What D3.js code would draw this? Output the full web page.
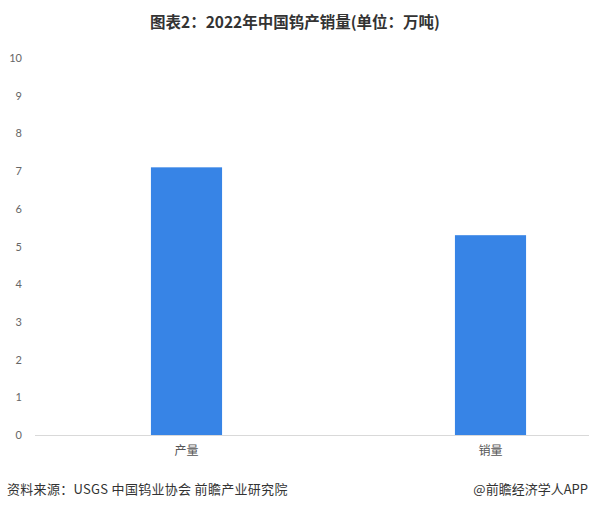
<!DOCTYPE html>
<html><head><meta charset="utf-8">
<script src="https://cdn.jsdelivr.net/npm/d3@7/dist/d3.min.js"></script>
<style>body{margin:0;background:#fff;}svg{display:block;font-family:"Noto Sans CJK SC","Noto Sans",sans-serif;}</style>
</head><body>
<script>
const categories = ["产量", "销量"];
const values = [7.1, 5.3];
const yTicks = [0,1,2,3,4,5,6,7,8,9,10];
const title = "图表2：2022年中国钨产销量(单位：万吨)";
const sourceText = "资料来源：USGS 中国钨业协会 前瞻产业研究院";
const brandText = "@前瞻经济学人APP";

const W = 589, H = 509;
const svg = d3.select("body").append("svg").attr("width", W).attr("height", H);

const x = d3.scaleBand().domain(categories).range([34.5, 642.5]).paddingInner(0.766).paddingOuter(0.383);
const y = d3.scaleLinear().domain([0, 10]).range([435, 58]);

// watermarks (very faint)
const wm = [[95,185],[345,215],[80,390],[395,400]];
svg.append("g").selectAll("text").data(wm).join("text")
  .attr("x", d=>d[0]).attr("y", d=>d[1])
  .attr("transform", d=>`rotate(-25,${d[0]},${d[1]})`)
  .attr("fill", "#000").attr("fill-opacity", 0.025)
  .attr("font-size", 24).attr("font-weight", "bold")
  .text("前瞻产业研究院");

// y axis labels
const yAxis = d3.axisLeft(y).tickValues(yTicks).tickSize(0).tickPadding(0);
const gy = svg.append("g").attr("transform", "translate(22,0)").call(yAxis);
gy.select(".domain").remove();
gy.selectAll("text").attr("fill", "#666").attr("font-size", 11).attr("font-family", "Lato, 'Noto Sans', sans-serif");

// bars
svg.append("g").selectAll("rect").data(values).join("rect")
  .attr("x", (d,i)=>x(categories[i]))
  .attr("width", x.bandwidth())
  .attr("y", d=>y(d))
  .attr("height", d=>y(0)-y(d))
  .attr("fill", "#3784e6");

// x axis
const xAxis = d3.axisBottom(x).tickSize(0).tickPadding(11);
const gx = svg.append("g").attr("transform", `translate(0,${y(0)})`).call(xAxis);
gx.select(".domain").attr("stroke", "#d9d9d9");
gx.selectAll("text").attr("fill", "#555").attr("font-size", 12).attr("font-family", "'Noto Sans CJK SC', sans-serif");

// title
svg.append("text").attr("x", 295).attr("y", 28).attr("text-anchor", "middle")
  .attr("font-size", 15.5).attr("font-weight", "bold").attr("fill", "#333").text(title);

// footer
svg.append("text").attr("x", 7).attr("y", 494).attr("font-size", 13).attr("fill", "#333")
  .attr("letter-spacing", 0.3).text(sourceText);
svg.append("text").attr("x", 588).attr("y", 494).attr("text-anchor", "end").attr("font-size", 13).attr("fill", "#333")
  .text(brandText);
</script>
</body></html>
